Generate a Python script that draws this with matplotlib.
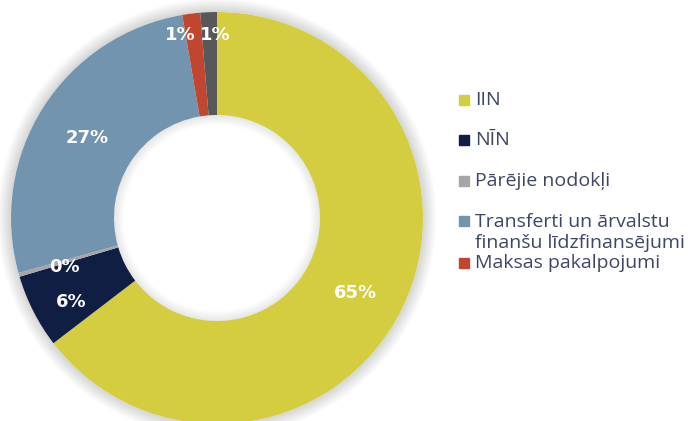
import matplotlib
matplotlib.use("Agg")
import matplotlib.pyplot as plt
from matplotlib.patches import Wedge, Rectangle

# slice shares (%), clockwise from 12 o'clock
labels = ["IIN", "NĪN", "Pārējie nodokļi",
          "Transferti un ārvalstu\nfinanšu līdzfinansējumi",
          "Maksas pakalpojumi", "Citi"]
values = [64.6, 5.8, 0.3, 26.6, 1.4, 1.3]
colors = ["#D4CD3F", "#0F1E42", "#A6A6A6", "#7294AE", "#C0462F", "#58585A"]
legend_n = 5  # the last slice has no visible legend entry

LEGEND_COLOR = "#3D4666"

fig = plt.figure(figsize=(6.91, 4.21), dpi=100)
ax = fig.add_axes([11 / 691, -3 / 421, 412 / 691, 412 / 421])

# soft shadow around the ring and inside the hole
for i in range(8):
    ax.add_patch(Wedge((0, 0), 1.0 + 0.008 * (i + 1), 0, 360, width=0.008 * (i + 1),
                       color="#000000", alpha=0.018, lw=0, zorder=0, clip_on=False))
    ax.add_patch(Wedge((0, 0), 0.5, 0, 360, width=0.006 * (i + 1),
                       color="#000000", alpha=0.012, lw=0, zorder=3))

wedges, _, autotexts = ax.pie(
    values, colors=colors, startangle=90, counterclock=False, radius=1.0,
    wedgeprops=dict(width=0.5, linewidth=0), pctdistance=0.75,
    autopct="%.0f%%",
    textprops=dict(color="white", fontsize=13, fontweight="bold",
                   family="DejaVu Sans"))

ax.set_xlim(-1.0, 1.0)
ax.set_ylim(-1.0, 1.0)
ax.set_aspect("equal")
ax.axis("off")

# Excel-style nudges for the label positions
autotexts[0].set_position((0.67, -0.365))
autotexts[1].set_position((-0.71, -0.41))
autotexts[2].set_position((-0.74, -0.24))
autotexts[3].set_position((-0.63, 0.39))
autotexts[4].set_position((-0.18, 0.89))
autotexts[5].set_position((-0.01, 0.89))

# hand-placed legend, fixed slot per entry like the original
leg_y = [100, 140, 181, 221, 263]
for lab, col, y in zip(labels[:legend_n], colors[:legend_n], leg_y):
    fy = 1 - y / 421
    fig.patches.append(Rectangle((459 / 691, fy - 5 / 421), 10 / 691, 10 / 421,
                                 transform=fig.transFigure, color=col,
                                 figure=fig))
    two = "\n" in lab
    fig.text(475 / 691, fy + 8 / 421 if two else fy, lab,
             fontsize=14, color=LEGEND_COLOR, va="top" if two else "center",
             family="Open Sans", linespacing=1.21)

fig.savefig("out.png", dpi=100)
